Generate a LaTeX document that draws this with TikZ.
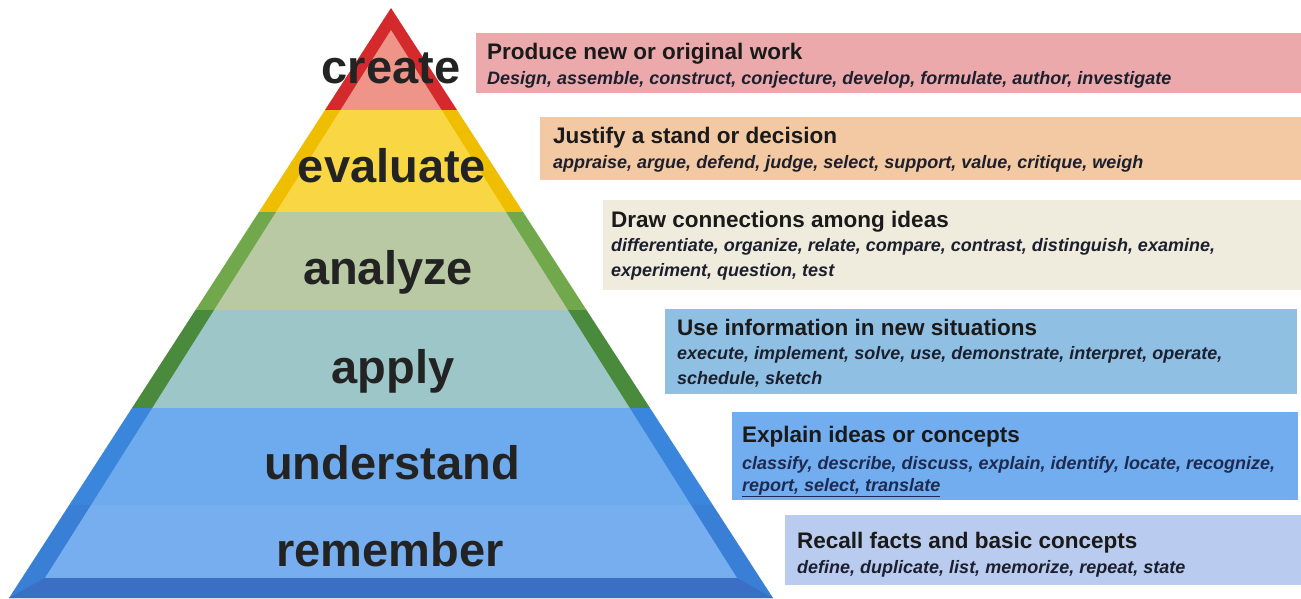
\documentclass[tikz,border=0pt]{standalone}
\usepackage{fontspec}
\setmainfont{Liberation Sans}
\definecolor{redO}{HTML}{D42A2E}
\definecolor{redI}{HTML}{EE9488}
\definecolor{yelO}{HTML}{F0BE00}
\definecolor{yelI}{HTML}{F9D744}
\definecolor{grnO}{HTML}{72A84C}
\definecolor{grnI}{HTML}{B8C9A4}
\definecolor{dgrO}{HTML}{4A8A3C}
\definecolor{tealI}{HTML}{9CC6C8}
\definecolor{bluO}{HTML}{3A86DC}
\definecolor{bluI}{HTML}{6EAAEE}
\definecolor{bl2O}{HTML}{3A7FD6}
\definecolor{bl2I}{HTML}{76AEF0}
\definecolor{baseB}{HTML}{3B6FC6}
\definecolor{boxA}{HTML}{EBA9AB}
\definecolor{boxB}{HTML}{F2C9A2}
\definecolor{boxC}{HTML}{EFEBDD}
\definecolor{boxD}{HTML}{8FC0E3}
\definecolor{boxE}{HTML}{72ADF0}
\definecolor{boxF}{HTML}{B9CBEE}
\definecolor{lblC}{HTML}{232323}
\definecolor{txtC}{HTML}{1A1A1A}
\definecolor{subC}{HTML}{1C1F2E}
\definecolor{subU}{HTML}{1E2A50}
\begin{document}
\begin{tikzpicture}[x=1pt,y=-1pt,
  lvl/.style={font=\fontsize{47}{50}\selectfont\bfseries, text=lblC, anchor=base, inner sep=0pt},
  ttl/.style={font=\fontsize{22.5}{24}\selectfont\bfseries, text=txtC, anchor=base west, inner sep=0pt},
  sub/.style={font=\fontsize{18}{20}\selectfont\bfseries\itshape, text=subC, anchor=base west, inner sep=0pt}]
\useasboundingbox (0,0) rectangle (1301,598);
\fill[white] (0,0) rectangle (1301,598);
% right-hand boxes
\fill[boxA] (476,33) rectangle (1301,93);
\fill[boxB] (540,117) rectangle (1301,180);
\fill[boxC] (603,200) rectangle (1301,290);
\fill[boxD] (665,309) rectangle (1297,394);
\fill[boxE] (732,412) rectangle (1298,500);
\fill[boxF] (785,515) rectangle (1301,585);
% pyramid outer bands
\fill[redO] (391,8) -- (457,110) -- (325,110) -- cycle;
\fill[yelO] (325,110) -- (457,110) -- (523.1,212) -- (258.9,212) -- cycle;
\fill[grnO] (258.9,212) -- (523.1,212) -- (586.5,310) -- (195.5,310) -- cycle;
\fill[dgrO] (195.5,310) -- (586.5,310) -- (650,408) -- (132,408) -- cycle;
\fill[bluO] (132,408) -- (650,408) -- (712.8,505) -- (69.2,505) -- cycle;
\fill[bl2O] (69.2,505) -- (712.8,505) -- (773,598) -- (9,598) -- cycle;
% pyramid inner fills
\fill[redI] (391,30) -- (441.5,110) -- (340.5,110) -- cycle;
\fill[yelI] (340.5,110) -- (441.5,110) -- (505.9,212) -- (276.1,212) -- cycle;
\fill[grnI] (276.1,212) -- (505.9,212) -- (567.8,310) -- (214.2,310) -- cycle;
\fill[tealI] (214.2,310) -- (567.8,310) -- (629.7,408) -- (152.3,408) -- cycle;
\fill[bluI] (152.3,408) -- (629.7,408) -- (690.9,505) -- (91.1,505) -- cycle;
\fill[bl2I] (91.1,505) -- (690.9,505) -- (737,578) -- (45,578) -- cycle;
\fill[baseB] (45,578) -- (737,578) -- (773,598) -- (9,598) -- cycle;
% level labels
\node[lvl] (lcreate) at (391,83) {create};
\node[lvl] (leval) at (392,182) {evaluate};
\node[lvl] (lanal) at (388,284) {analyze};
\node[lvl] (lapply) at (393,383) {apply};
\node[lvl] (lund) at (392,479) {understand};
\node[lvl] (lrem) at (390,566) {remember};
% texts
\node[ttl] (t1) at (487,59) {Produce new or original work};
\node[sub] (s1) at (487,84) {Design, assemble, construct, conjecture, develop, formulate, author, investigate};
\node[ttl] (t2) at (553,143) {Justify a stand or decision};
\node[sub] (s2) at (553,168) {appraise, argue, defend, judge, select, support, value, critique, weigh};
\node[ttl] (t3) at (611,227) {Draw connections among ideas};
\node[sub] (s3a) at (611,251) {differentiate, organize, relate, compare, contrast, distinguish, examine,};
\node[sub] (s3b) at (611,276) {experiment, question, test};
\node[ttl] (t4) at (677,335) {Use information in new situations};
\node[sub] (s4a) at (677,359) {execute, implement, solve, use, demonstrate, interpret, operate,};
\node[sub] (s4b) at (677,384) {schedule, sketch};
\node[ttl] (t5) at (742,442) {Explain ideas or concepts};
\node[sub,text=subU] (s5a) at (742,469) {classify, describe, discuss, explain, identify, locate, recognize,};
\node[sub,text=subU] (s5b) at (742,491) {\underline{report, select, translate}};
\node[ttl] (t6) at (797,548) {Recall facts and basic concepts};
\node[sub] (s6) at (797,573) {define, duplicate, list, memorize, repeat, state};
\end{tikzpicture}
\end{document}
